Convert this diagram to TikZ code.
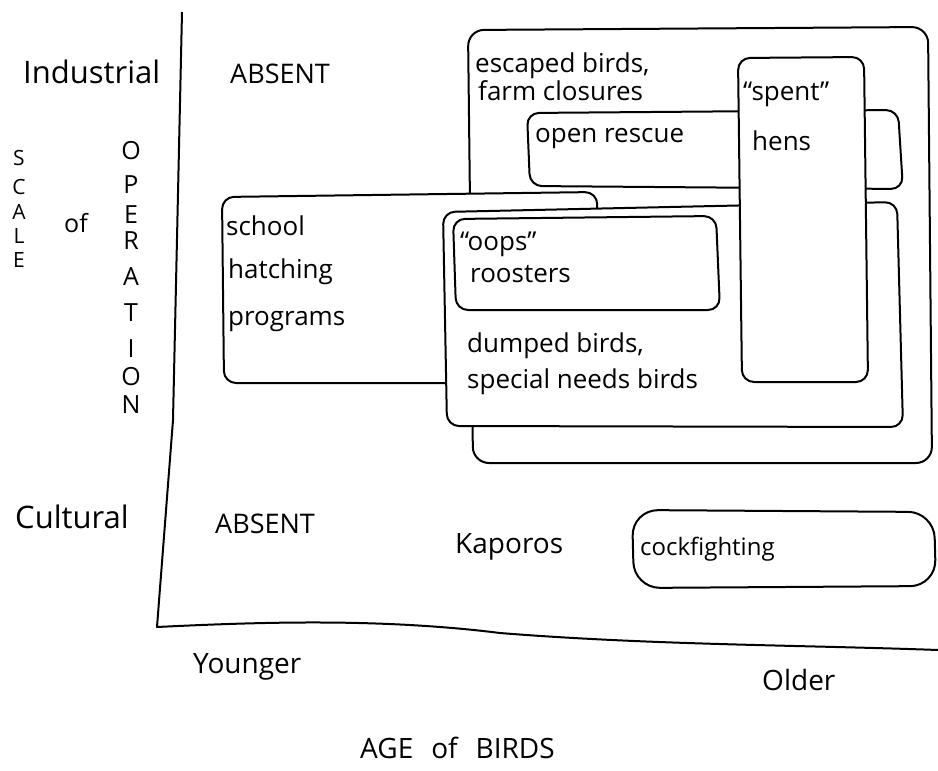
\documentclass[tikz,border=0pt]{standalone}
\usepackage{fontspec}
\setmainfont{Open Sans}
\begin{document}
\begin{tikzpicture}[x=1pt,y=-1pt,
  box/.style={draw=black, line width=2pt, fill=white, rounded corners=12pt},
  axisline/.style={draw=black, line width=2pt, line join=round},
  lbl/.style={anchor=base west, inner sep=0pt, font=\fontsize{26}{30}\selectfont},
  biglbl/.style={anchor=base west, inner sep=0pt, font=\fontsize{28}{32}\selectfont},
  letter/.style={anchor=center, inner sep=0pt, font=\fontsize{25}{28}\selectfont},
  smallletter/.style={anchor=center, inner sep=0pt, font=\fontsize{21}{24}\selectfont}]
\useasboundingbox (0,0) rectangle (938,771);

% axes
\coordinate (ytop) at (182,12);
\coordinate (ymid) at (173,420);
\coordinate (orig) at (157,627);
\coordinate (xend) at (938,650);
\draw[axisline] (ytop) -- (ymid) -- (orig)
  .. controls (260,622) and (380,618) .. (500,633)
  .. controls (650,645) and (800,645) .. (xend);

% boxes, back to front
\draw[box, rounded corners=16pt] (468,30) -- (928,27) -- (932,463) -- (473,463) -- cycle; % escaped
\draw[box] (527,113) -- (898,110) -- (903,189) -- (530,186) -- cycle; % open rescue
\draw[box] (222,197) -- (597,192) -- (600,383) -- (224,383) -- cycle; % school
\draw[box] (443,212) -- (897,202) -- (903,427) -- (447,426) -- cycle; % dumped
\draw[box] (453,219) -- (716,216) -- (720,310) -- (456,310) -- cycle; % oops
\draw[box] (738,58) -- (864,57) -- (868,382) -- (742,382) -- cycle; % spent hens
\draw[box, rounded corners=26pt] (632,510) -- (934,512) -- (936,586) -- (634,588) -- cycle; % cockfighting

% axis labels
\node[biglbl, font=\fontsize{31}{34}\selectfont] (industrial) at (23,83) {Industrial};
\node[biglbl, font=\fontsize{31}{34}\selectfont] (cultural) at (15,528) {Cultural};
\node[biglbl, font=\fontsize{27}{30}\selectfont] (absenttop) at (230,83) {ABSENT};
\node[biglbl, font=\fontsize{27}{30}\selectfont] (absentbot) at (215,533) {ABSENT};
\node[biglbl] (younger) at (193,673) {Younger};
\node[biglbl] (older) at (762,690) {Older};
\node[biglbl] (agebirds) at (360,758) {AGE\hspace{18pt}of\hspace{18pt}BIRDS};

% vertical axis title
\node[smallletter] (s1) at (19,158) {S};
\node[smallletter] (s2) at (19,187) {C};
\node[smallletter] (s3) at (19,212) {A};
\node[smallletter] (s4) at (19,236) {L};
\node[smallletter] (s5) at (19,260) {E};
\node[letter] (ofv) at (76,223) {of};
\node[letter] (o1) at (131,151) {O};
\node[letter] (o2) at (131,185) {P};
\node[letter] (o3) at (131,215) {E};
\node[letter] (o4) at (131,241) {R};
\node[letter] (o5) at (131,277) {A};
\node[letter] (o6) at (131,313) {T};
\node[letter] (o7) at (131,349) {I};
\node[letter] (o8) at (131,377) {O};
\node[letter] (o9) at (131,405) {N};

% box texts
\node[lbl] (esc1) at (475,72) {escaped birds,};
\node[lbl] (esc2) at (478,100) {farm closures};
\node[lbl] (openr) at (535,142) {open rescue};
\node[lbl] (spent1) at (743,100) {“spent”};
\node[lbl] (spent2) at (752,150) {hens};
\node[lbl] (school1) at (226,235) {school};
\node[lbl] (school2) at (228,278) {hatching};
\node[lbl] (school3) at (228,325) {programs};
\node[lbl] (oops1) at (460,250) {“oops”};
\node[lbl] (oops2) at (470,282) {roosters};
\node[lbl] (dump1) at (467,352) {dumped birds,};
\node[lbl] (dump2) at (467,388) {special needs birds};
\node[biglbl] (kaporos) at (455,553) {Kaporos};
\node[lbl, font=\fontsize{24}{28}\selectfont] (cock) at (640,555) {cockfighting};
\end{tikzpicture}
\end{document}
